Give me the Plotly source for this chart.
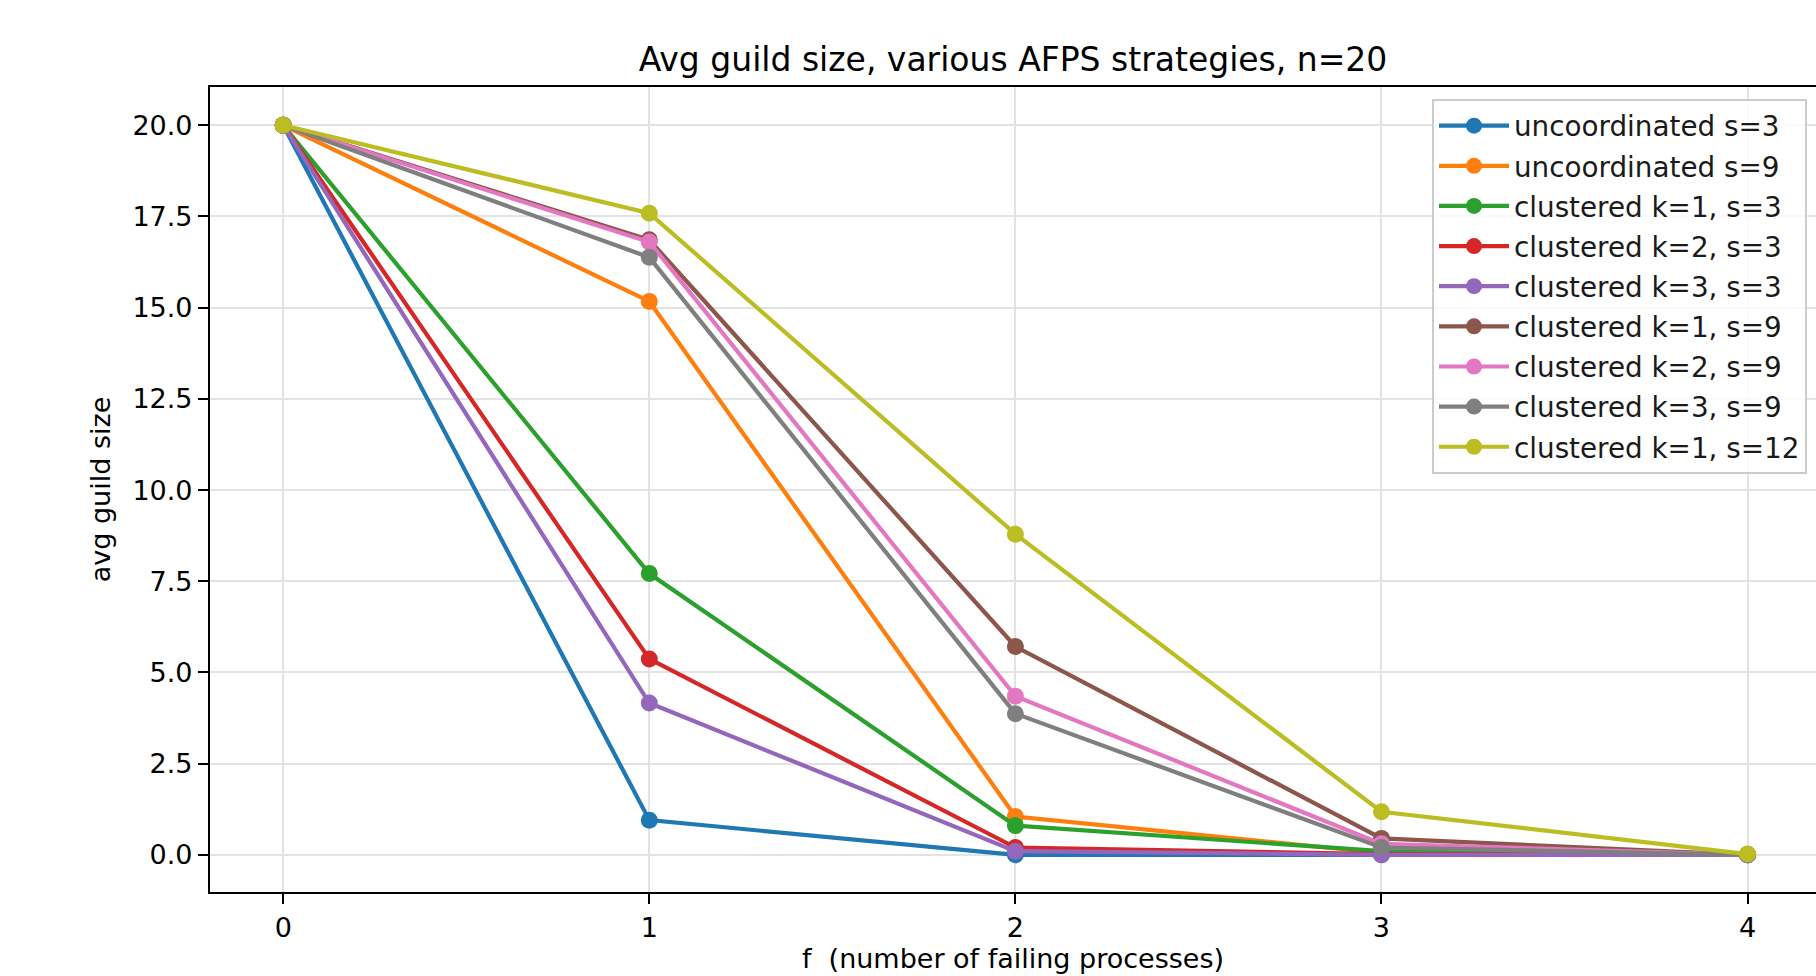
import plotly.graph_objects as go

f_values = [0, 1, 2, 3, 4]
series_names = [
    "uncoordinated s=3",
    "uncoordinated s=9",
    "clustered k=1, s=3",
    "clustered k=2, s=3",
    "clustered k=3, s=3",
    "clustered k=1, s=9",
    "clustered k=2, s=9",
    "clustered k=3, s=9",
    "clustered k=1, s=12",
]
uncoord_s3 = [20.0, 0.95, 0.0, 0.0, 0.0]
uncoord_s9 = [20.0, 15.17, 1.05, 0.05, 0.0]
clust_k1_s3 = [20.0, 7.71, 0.8, 0.1, 0.0]
clust_k2_s3 = [20.0, 5.37, 0.2, 0.02, 0.0]
clust_k3_s3 = [20.0, 4.16, 0.1, 0.0, 0.0]
clust_k1_s9 = [20.0, 16.86, 5.71, 0.45, 0.0]
clust_k2_s9 = [20.0, 16.8, 4.35, 0.3, 0.0]
clust_k3_s9 = [20.0, 16.38, 3.87, 0.2, 0.0]
clust_k1_s12 = [20.0, 17.59, 8.79, 1.18, 0.02]
series_values = [uncoord_s3, uncoord_s9, clust_k1_s3, clust_k2_s3, clust_k3_s3,
                 clust_k1_s9, clust_k2_s9, clust_k3_s9, clust_k1_s12]
colors = ["#1f77b4", "#ff7f0e", "#2ca02c", "#d62728", "#9467bd",
          "#8c564b", "#e377c2", "#7f7f7f", "#bcbd22"]
y_ticks = [0.0, 2.5, 5.0, 7.5, 10.0, 12.5, 15.0, 17.5, 20.0]

FONT = "DejaVu Sans"
fig = go.Figure()
for i, (name, vals, c) in enumerate(zip(series_names, series_values, colors)):
    fig.add_trace(go.Scatter(
        x=f_values, y=vals, name=name, mode="lines+markers",
        legendgroup=f"g{i}",
        line=dict(color=c, width=4.2),
        marker=dict(color=c, size=17),
    ))

fig.update_layout(
    width=1816, height=976,
    paper_bgcolor="white", plot_bgcolor="white",
    margin=dict(l=210, r=0, t=87, b=84),
    font=dict(family=FONT, size=27, color="black"),
    title=dict(text="Avg guild size, various AFPS strategies, n=20",
               x=0.5, xref="paper", xanchor="center",
               y=1 - 59 / 976, yanchor="middle", yref="container",
               font=dict(family=FONT, size=33, color="black")),
    showlegend=True,
    legend=dict(
        x=0.9944, y=0.985, xanchor="right", yanchor="top",
        bgcolor="rgba(255,255,255,0.8)", bordercolor="#cccccc", borderwidth=2,
        font=dict(family=FONT, size=27.8, color="#1a1a1a"),
        itemwidth=70, tracegroupgap=1,
    ),
)
fig.update_xaxes(
    range=[-0.2, 4.187], tickmode="array", tickvals=f_values,
    ticktext=[str(v) for v in f_values],
    showgrid=True, gridcolor="#e3e3e3", gridwidth=2,
    zeroline=False, showline=True, linecolor="black", linewidth=2.2,
    mirror=True, ticks="outside", ticklen=10, tickwidth=2.2, tickcolor="black",
    title=dict(text="f\u00a0 (number of failing processes)", standoff=8,
               font=dict(family=FONT, size=27)),
)
fig.update_yaxes(
    range=[-1.02, 21.05], tickmode="array", tickvals=y_ticks,
    ticktext=[f"{v:.1f}" for v in y_ticks],
    showgrid=True, gridcolor="#e3e3e3", gridwidth=2,
    zeroline=False, showline=True, linecolor="black", linewidth=2.2,
    mirror=False, ticks="outside", ticklen=10, tickwidth=2.2, tickcolor="black",
    title=dict(text="avg guild size", standoff=14,
               font=dict(family=FONT, size=27)),
)
fig.write_html("out.html")
